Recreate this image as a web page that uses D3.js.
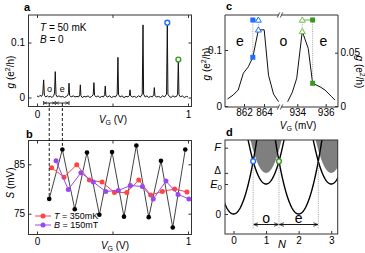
<!DOCTYPE html>
<html><head><meta charset="utf-8">
<script src="https://cdn.jsdelivr.net/npm/d3@7"></script>
<style>body{margin:0;background:#fff}svg{display:block;font-family:"Liberation Sans",Arial,sans-serif}</style>
</head><body><svg id="c" width="365" height="253"></svg>
<script>
// ---------- DATA ----------
// panel a: conductance trace [VG (V), g (e^2/h)]
const traceA = [[0.000,0.003],[0.010,0.001],[0.020,0.004],[0.030,0.002],[0.038,0.006],[0.044,0.032],[0.049,0.004],[0.058,0.001],[0.068,0.003],[0.078,0.001],[0.090,0.002],[0.100,0.000],[0.110,0.003],[0.116,0.008],[0.121,0.047],[0.126,0.005],[0.134,0.001],[0.145,0.003],[0.158,0.001],[0.170,0.002],[0.182,0.000],[0.194,0.002],[0.204,0.004],[0.209,0.009],[0.212,0.026],[0.216,0.004],[0.226,0.001],[0.240,0.003],[0.252,0.001],[0.265,0.002],[0.276,0.001],[0.283,0.005],[0.287,0.023],[0.291,0.003],[0.300,0.000],[0.312,0.002],[0.325,0.001],[0.338,0.003],[0.350,0.000],[0.362,0.002],[0.372,0.005],[0.377,0.027],[0.381,0.004],[0.392,0.001],[0.404,0.003],[0.416,0.000],[0.428,0.002],[0.440,0.001],[0.448,0.005],[0.452,0.021],[0.456,0.003],[0.468,0.001],[0.480,0.003],[0.494,0.000],[0.507,0.002],[0.520,0.001],[0.531,0.006],[0.536,0.073],[0.540,0.005],[0.550,0.001],[0.563,0.003],[0.576,0.000],[0.590,0.002],[0.603,0.001],[0.612,0.004],[0.616,0.014],[0.620,0.003],[0.632,0.001],[0.645,0.002],[0.658,0.000],[0.672,0.003],[0.685,0.001],[0.697,0.006],[0.702,0.132],[0.706,0.006],[0.716,0.001],[0.728,0.003],[0.740,0.000],[0.752,0.002],[0.764,0.001],[0.773,0.005],[0.777,0.018],[0.781,0.003],[0.792,0.001],[0.805,0.002],[0.818,0.000],[0.832,0.003],[0.845,0.001],[0.858,0.006],[0.863,0.136],[0.867,0.006],[0.876,0.002],[0.888,0.000],[0.900,0.003],[0.912,0.001],[0.924,0.002],[0.931,0.006],[0.936,0.069],[0.940,0.005],[0.950,0.001],[0.962,0.003],[0.975,0.000],[0.990,0.002],[1.000,0.001]];
const peakBlueA = [0.863, 0.136];
const peakGreenA = [0.936, 0.069];
const oePeaksA = [0.044, 0.121, 0.212];
const ticksXA = [0, 0.5, 1];
const ticksYA = [0, 0.1];

// panel b: spacing S (mV)
const vgBlack = [0.081,0.168,0.250,0.331,0.413,0.497,0.576,0.658,0.740,0.821,0.899,0.982];
const sBlack  = [78.0,88.0,75.9,87.4,74.8,87.5,74.4,88.8,74.3,85.7,72.2,88.0];
const vgRed   = [0.097,0.179,0.263,0.347,0.431,0.513,0.595,0.674,0.753,0.830,0.912,0.993];
const sRed    = [84.3,82.4,84.9,81.8,81.4,79.3,79.3,81.8,78.8,79.5,80.0,79.4];
const vgPurple= [0.126,0.207,0.291,0.373,0.455,0.539,0.618,0.698,0.770,0.854,0.934,1.006];
const sPurple = [85.7,79.9,83.3,81.4,79.5,79.7,80.7,80.5,78.0,81.6,78.9,78.0];
const legendB = ["T = 350mK","B = 150mT"];
const ticksYB = [75, 85];

// panel c: zoomed peaks
const vgCL = [860.35,860.92,861.42,861.93,862.43,862.88,863.44,864.02,864.45,864.96,865.46];
const gCL  = [0.0125,0.0196,0.0286,0.0584,0.070,0.087,0.136,0.136,0.055,0.021,0.0077];
const vgCR = [933.32,933.65,933.96,934.35,934.77,935.08,935.60,935.95,936.42,936.65];
const gCR  = [0.004,0.0129,0.026,0.070,0.054,0.0213,0.018,0.015,0.0087,0.0056];
const blueSq = [862.88, 0.087], blueTri = [863.44, 0.136], topLevelL = 0.1536;
const greenTri = [934.35, 0.070], greenSq = [935.08, 0.0213], topLevelR = 0.0807;
const ticksCL = [862, 864], ticksCR = [934, 936];
const labelsC = ["e","o","e"];

// panel d: schematic energies (units of E0)
const evenCenters = [0, 2], oddCenters = [1, 3];
const curvature = [4.83];
const levels = {zero:0, E0:1, Delta:1.37, F:2.21};
const crossN = [0.6035, 1.3965, 2.6035];
const ticksXD = [0,1,2,3];

// ---------- DRAW ----------
const svg = d3.select("#c");
const BLUE = "#1f6fff", GREEN = "#3a9a1f", LGREEN = "#6cc040", RED = "#ff4444", PURPLE = "#9a48ee";

function frameRect(x0,y0,x1,y1){
  svg.append("rect").attr("x",x0).attr("y",y0).attr("width",x1-x0).attr("height",y1-y0)
    .attr("fill","none").attr("stroke","#333").attr("stroke-width",1);
}
function txt(x,y,s,opt={}){
  const t = svg.append("text").attr("x",x).attr("y",y).attr("font-size",opt.size||10)
    .attr("text-anchor",opt.anchor||"start").attr("fill",opt.fill||"#000");
  if(s) t.text(s);
  if(opt.bold) t.attr("font-weight","bold");
  if(opt.italic) t.attr("font-style","italic");
  if(opt.rotate!==undefined) t.attr("transform",`rotate(${opt.rotate},${x},${y})`);
  return t;
}
function styleAxis(g){ g.select(".domain").remove(); g.selectAll("line").attr("stroke","#333"); g.selectAll("text").attr("font-size",10).attr("font-family","Liberation Sans, Arial, sans-serif").attr("fill","#000"); }
function vgLabel(x,y,unit){
  const t = txt(x,y,"",{anchor:"middle"});
  t.append("tspan").attr("font-style","italic").text("V");
  t.append("tspan").attr("font-size",7).attr("dy",2).text("G");
  t.append("tspan").attr("dy",-2).text(` (${unit})`);
}
function gLabel(x,y,rot){
  const t = txt(x,y,"",{anchor:"middle",rotate:rot});
  t.append("tspan").attr("font-style","italic").text("g");
  t.append("tspan").text(" (e");
  t.append("tspan").attr("font-size",7).attr("dy",-4).text("2");
  t.append("tspan").attr("dy",4).text("/h)");
}

// ===== Panel a =====
const xA = d3.scaleLinear([0,1],[37,188]);
const yA = d3.scaleLinear([0,0.1],[97.5,42.5]);
const fA = [28.5,15,191.5,106.5];
frameRect(...fA);
svg.append("g").attr("transform",`translate(0,${fA[3]})`)
  .call(d3.axisBottom(xA).tickValues(ticksXA).tickSize(-3).tickPadding(4.5).tickFormat(d=>d===0.5?"":d3.format("d")(d))).call(styleAxis);
svg.append("g").attr("transform",`translate(0,${fA[1]})`)
  .call(d3.axisTop(xA).tickValues(ticksXA).tickSize(-3).tickFormat("")).call(styleAxis);
svg.append("g").attr("transform",`translate(${fA[0]},0)`)
  .call(d3.axisLeft(yA).tickValues(ticksYA).tickSize(-3).tickPadding(3.5).tickFormat(d=>d===0?"0":d3.format(".1f")(d))).call(styleAxis);
svg.append("g").attr("transform",`translate(${fA[2]},0)`)
  .call(d3.axisRight(yA).tickValues(ticksYA).tickSize(-3).tickFormat("")).call(styleAxis);
svg.append("path").datum(traceA).attr("fill","none").attr("stroke","#111").attr("stroke-width",1)
  .attr("d",d3.line().x(d=>xA(d[0])).y(d=>yA(d[1])));
svg.append("circle").attr("cx",xA(peakBlueA[0])).attr("cy",yA(peakBlueA[1])).attr("r",2.4).attr("fill","#fff").attr("stroke",BLUE).attr("stroke-width",1.4);
svg.append("circle").attr("cx",xA(peakGreenA[0])).attr("cy",yA(peakGreenA[1])).attr("r",2.4).attr("fill","#fff").attr("stroke",GREEN).attr("stroke-width",1.4);
// o/e arrows
const defs = svg.append("defs");
function arrowMarker(id,size){
  defs.append("marker").attr("id",id).attr("viewBox","0 0 10 10").attr("refX",10).attr("refY",5)
    .attr("markerWidth",size).attr("markerHeight",size).attr("orient","auto-start-reverse")
    .append("path").attr("d","M0,1 L10,5 L0,9").attr("fill","none").attr("stroke","#000").attr("stroke-width",1.6);
}
arrowMarker("arS",4); arrowMarker("arL",5);
const yArrA = 103;
for(let i=0;i<2;i++){
  svg.append("line").attr("x1",xA(oePeaksA[i])+0.5).attr("x2",xA(oePeaksA[i+1])-0.5).attr("y1",yArrA).attr("y2",yArrA)
    .attr("stroke","#000").attr("stroke-width",0.8).attr("marker-start","url(#arS)").attr("marker-end","url(#arS)");
}
oePeaksA.forEach(v=>svg.append("line").attr("x1",xA(v)).attr("x2",xA(v)).attr("y1",yArrA-2).attr("y2",yArrA+2).attr("stroke","#000").attr("stroke-width",0.8));
txt((xA(oePeaksA[0])+xA(oePeaksA[1]))/2, 92, "o",{anchor:"middle",size:9});
txt((xA(oePeaksA[1])+xA(oePeaksA[2]))/2, 92, "e",{anchor:"middle",size:9});
{ const t = txt(40,31,"",{size:10}); t.append("tspan").attr("font-style","italic").text("T"); t.append("tspan").text(" = 50 mK"); }
{ const t = txt(40,43,"",{size:10}); t.append("tspan").attr("font-style","italic").text("B"); t.append("tspan").text(" = 0"); }
vgLabel(113,123,"V");
gLabel(14,72,-90);
txt(24,11,"a",{bold:true,size:11});

// ===== Panel b =====
const xB = d3.scaleLinear([0,1],[37,188]);
const yB = d3.scaleLinear([75,85],[213.7,164.3]);
const fB = [28.5,140.5,191.5,234.5];
frameRect(...fB);
svg.append("g").attr("transform",`translate(0,${fB[3]})`)
  .call(d3.axisBottom(xB).tickValues(ticksXA).tickSize(-3).tickPadding(3).tickFormat(d=>d===0.5?"":d3.format("d")(d))).call(styleAxis);
svg.append("g").attr("transform",`translate(0,${fB[1]})`)
  .call(d3.axisTop(xB).tickValues(ticksXA).tickSize(-3).tickFormat("")).call(styleAxis);
svg.append("g").attr("transform",`translate(${fB[0]},0)`)
  .call(d3.axisLeft(yB).tickValues(ticksYB).tickSize(-3).tickPadding(3.5)).call(styleAxis);
svg.append("g").attr("transform",`translate(${fB[2]},0)`)
  .call(d3.axisRight(yB).tickValues(ticksYB).tickSize(-3).tickFormat("")).call(styleAxis);
defs.append("clipPath").attr("id","clipB").append("rect").attr("x",fB[0]).attr("y",fB[1]).attr("width",fB[2]-fB[0]).attr("height",fB[3]-fB[1]);
const gB = svg.append("g").attr("clip-path","url(#clipB)");
function series(vg,s,color,lineColor,r){
  const pts = vg.map((v,i)=>[v,s[i]]);
  gB.append("path").datum(pts).attr("fill","none").attr("stroke",lineColor).attr("stroke-width",1)
    .attr("d",d3.line().x(d=>xB(d[0])).y(d=>yB(d[1])));
  gB.selectAll(null).data(pts).enter().append("circle").attr("cx",d=>xB(d[0])).attr("cy",d=>yB(d[1])).attr("r",r).attr("fill",color);
}
series(vgBlack,sBlack,"#000","#444",2.3);
series(vgRed,sRed,RED,RED,2.5);
series(vgPurple,sPurple,PURPLE,PURPLE,2.5);
// dashed links a -> b
[0,1].forEach(i=>{
  svg.append("line").attr("x1",xB(vgBlack[i])).attr("x2",xB(vgBlack[i])).attr("y1",yArrA).attr("y2",yB(sBlack[i]))
    .attr("stroke","#000").attr("stroke-width",0.9).attr("stroke-dasharray","3,2");
});
// legend
[[RED,legendB[0],216],[PURPLE,legendB[1],225]].forEach(([c,l,y])=>{
  svg.append("line").attr("x1",35).attr("x2",51).attr("y1",y).attr("y2",y).attr("stroke",c).attr("stroke-width",1);
  svg.append("circle").attr("cx",43).attr("cy",y).attr("r",2.5).attr("fill",c);
  const t = txt(54,y+3.2,"",{size:9});
  t.append("tspan").attr("font-style","italic").text(l[0]);
  t.append("tspan").text(l.slice(1));
});
vgLabel(115,248.5,"V");
{ const t = txt(14,183,"",{anchor:"middle",rotate:-90}); t.append("tspan").attr("font-style","italic").text("S"); t.append("tspan").text(" (mV)"); }
txt(26,138,"b",{bold:true,size:11});

// ===== Panel c =====
const xCL = d3.scaleLinear([862,864],[244,264]);
const xCR = d3.scaleLinear([934,936],[297.3,325.7]);
const yCL = d3.scaleLinear([0,0.1],[106,50]);
const yCR = d3.scaleLinear([0,0.05],[106,52.7]);
const cT = 15, cB = 107, cL = 225, cR = 338, brk1 = 278.5, brk2 = 281.5;
[[cL,brk1],[brk2,cR]].forEach(([a,b])=>{
  [cT,cB].forEach(y=>svg.append("line").attr("x1",a).attr("x2",b).attr("y1",y).attr("y2",y).attr("stroke","#333"));
});
[cL,cR].forEach(x=>svg.append("line").attr("x1",x).attr("x2",x).attr("y1",cT).attr("y2",cB).attr("stroke","#333"));
[cT,cB].forEach(y=>{
  [brk1,brk2].forEach(x=>svg.append("line").attr("x1",x-1.2).attr("x2",x+1.2).attr("y1",y+2.5).attr("y2",y-2.5).attr("stroke","#333").attr("stroke-width",0.9));
});
svg.append("g").attr("transform",`translate(0,${cB})`)
  .call(d3.axisBottom(xCL).tickValues(ticksCL).tickSize(-3).tickPadding(1.5).tickFormat(d3.format("d"))).call(styleAxis);
svg.append("g").attr("transform",`translate(0,${cB})`)
  .call(d3.axisBottom(xCR).tickValues(ticksCR).tickSize(-3).tickPadding(1.5).tickFormat(d3.format("d"))).call(styleAxis);
svg.append("g").attr("transform",`translate(${cL},0)`)
  .call(d3.axisLeft(yCL).tickValues([0,0.1]).tickSize(-3).tickPadding(3).tickFormat(d=>d===0?"0":d3.format(".1f")(d))).call(styleAxis);
svg.append("g").attr("transform",`translate(${cR},0)`)
  .call(d3.axisRight(yCR).tickValues([0,0.05]).tickSize(-3).tickPadding(2.5).tickFormat(d=>d===0?"0":d3.format(".2f")(d))).call(styleAxis);
svg.append("path").datum(vgCL.map((v,i)=>[v,gCL[i]])).attr("fill","none").attr("stroke","#111").attr("stroke-width",1)
  .attr("d",d3.line().x(d=>xCL(d[0])).y(d=>yCL(d[1])));
svg.append("path").datum(vgCR.map((v,i)=>[v,gCR[i]])).attr("fill","none").attr("stroke","#111").attr("stroke-width",1)
  .attr("d",d3.line().x(d=>xCR(d[0])).y(d=>yCR(d[1])));
function dotted(x1,y1,x2,y2){ svg.append("line").attr("x1",x1).attr("x2",x2).attr("y1",y1).attr("y2",y2).attr("stroke","#888").attr("stroke-width",0.8).attr("stroke-dasharray","1,1.2"); }
function square(x,y,c){ svg.append("rect").attr("x",x-2.5).attr("y",y-2.5).attr("width",5).attr("height",5).attr("fill",c); }
function tri(x,y,c){ svg.append("path").attr("d",`M${x},${y-3} L${x+3},${y+2.2} L${x-3},${y+2.2} Z`).attr("fill","#fff").attr("stroke",c).attr("stroke-width",1); }
// blue
dotted(xCL(blueSq[0]),yCL(topLevelL),xCL(blueSq[0]),yCL(blueSq[1]));
dotted(xCL(blueTri[0]),yCL(topLevelL),xCL(blueTri[0]),yCL(blueTri[1]));
svg.append("line").attr("x1",xCL(blueSq[0])).attr("x2",xCL(blueTri[0])).attr("y1",yCL(topLevelL)).attr("y2",yCL(topLevelL)).attr("stroke",BLUE).attr("stroke-width",0.8);
square(xCL(blueSq[0]),yCL(blueSq[1]),BLUE); square(xCL(blueSq[0]),yCL(topLevelL),BLUE);
tri(xCL(blueTri[0]),yCL(blueTri[1]),BLUE); tri(xCL(blueTri[0]),yCL(topLevelL),BLUE);
// green
dotted(xCR(greenSq[0]),yCR(topLevelR),xCR(greenSq[0]),yCR(greenSq[1]));
dotted(xCR(greenTri[0]),yCR(topLevelR),xCR(greenTri[0]),yCR(greenTri[1]));
svg.append("line").attr("x1",xCR(greenTri[0])).attr("x2",xCR(greenSq[0])).attr("y1",yCR(topLevelR)).attr("y2",yCR(topLevelR)).attr("stroke",GREEN).attr("stroke-width",0.8);
square(xCR(greenSq[0]),yCR(greenSq[1]),GREEN); square(xCR(greenSq[0]),yCR(topLevelR),GREEN);
tri(xCR(greenTri[0]),yCR(greenTri[1]),LGREEN); tri(xCR(greenTri[0]),yCR(topLevelR),LGREEN);
[[240,labelsC[0]],[283.3,labelsC[1]],[323.3,labelsC[2]]].forEach(([x,l])=>txt(x,46,l,{anchor:"middle",size:14}));
vgLabel(298,128.5,"mV");
gLabel(210,64,-90);
gLabel(356,72,90);
txt(226,10,"c",{bold:true,size:11});

// ===== Panel d =====
const xD = d3.scaleLinear([0,3],[233.5,331.2]);
const yD = d3.scaleLinear([0,1],[214,184]);
const fD = [225,140,337.7,234];
const k = curvature[0];
defs.append("clipPath").attr("id","clipD").append("rect").attr("x",fD[0]).attr("y",fD[1]).attr("width",fD[2]-fD[0]).attr("height",fD[3]-fD[1]);
const gD = svg.append("g").attr("clip-path","url(#clipD)");
const Etop = yD.invert(fD[1]);
function parab(c,E0){
  const h = Math.sqrt(Math.max(Etop+0.3-E0,0)/k);
  return d3.range(-h,h+1e-9,h/60).map(u=>[c+u,E0+k*u*u]);
}
oddCenters.forEach(c=>{
  const pts = parab(c,levels.Delta);
  gD.append("path").datum(pts).attr("fill","#7f7f7f").attr("stroke","none")
    .attr("d",d3.line().x(d=>xD(d[0])).y(d=>yD(d[1])));
});
evenCenters.forEach(c=>gD.append("path").datum(parab(c,levels.zero)).attr("fill","none").attr("stroke","#000").attr("stroke-width",1.4)
  .attr("d",d3.line().x(d=>xD(d[0])).y(d=>yD(d[1]))));
oddCenters.forEach(c=>gD.append("path").datum(parab(c,levels.E0)).attr("fill","none").attr("stroke","#000").attr("stroke-width",1.4)
  .attr("d",d3.line().x(d=>xD(d[0])).y(d=>yD(d[1]))));
frameRect(...fD);
svg.append("g").attr("transform",`translate(0,${fD[3]})`)
  .call(d3.axisBottom(xD).tickValues(ticksXD).tickSize(-3).tickPadding(3).tickFormat(d3.format("d"))).call(styleAxis);
svg.append("g").attr("transform",`translate(${fD[0]},0)`)
  .call(d3.axisLeft(yD).tickValues([levels.zero,levels.E0,levels.Delta,levels.F]).tickSize(-3).tickFormat("")).call(styleAxis);
txt(221,yD(levels.F)+3.5,"F",{anchor:"end",italic:true,size:11});
txt(221,yD(levels.Delta)+1,"Δ",{anchor:"end",size:10});
{ const t = txt(222,yD(levels.E0)+3.5,"",{anchor:"end",size:11}); t.append("tspan").attr("font-style","italic").text("E"); t.append("tspan").attr("font-size",8).attr("dy",2).text("0"); }
txt(221,yD(levels.zero)+3.5,"0",{anchor:"end",size:10});
const Ecross = k*crossN[0]*crossN[0];
crossN.forEach(n=>dotted(xD(n),yD(Ecross),xD(n),229));
const yArrD = 224.5;
[[0,1],[1,2]].forEach(([a,b])=>{
  svg.append("line").attr("x1",xD(crossN[a])+0.5).attr("x2",xD(crossN[b])-0.5).attr("y1",yArrD).attr("y2",yArrD)
    .attr("stroke","#000").attr("stroke-width",0.9).attr("marker-start","url(#arL)").attr("marker-end","url(#arL)");
});
txt((xD(crossN[0])+xD(crossN[1]))/2,223,"o",{anchor:"middle",size:14});
txt((xD(crossN[1])+xD(crossN[2]))/2,223,"e",{anchor:"middle",size:14});
svg.append("circle").attr("cx",xD(crossN[0])).attr("cy",yD(Ecross)).attr("r",2.4).attr("fill","#fff").attr("stroke",BLUE).attr("stroke-width",1.4);
svg.append("circle").attr("cx",xD(crossN[1])).attr("cy",yD(Ecross)).attr("r",2.4).attr("fill","#fff").attr("stroke",GREEN).attr("stroke-width",1.4);
txt(282,248,"N",{anchor:"middle",italic:true,size:11});
txt(226,136,"d",{bold:true,size:11});
</script></body></html>
